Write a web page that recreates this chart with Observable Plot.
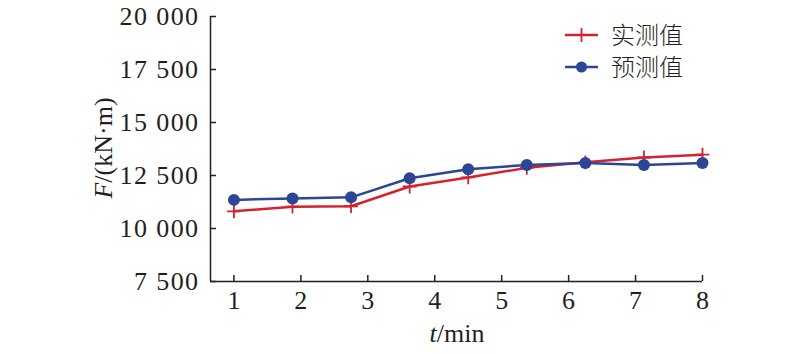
<!DOCTYPE html>
<html><head><meta charset="utf-8">
<script src="https://cdn.jsdelivr.net/npm/d3@7"></script>
<script src="https://cdn.jsdelivr.net/npm/@observablehq/plot@0.6"></script>
<style>
body{margin:0;background:#fff;}
#wrap{position:relative;width:800px;height:354px;}
</style></head><body><div id="wrap"></div>
<script>
const time = [1, 1.875, 2.75, 3.625, 4.5, 5.375, 6.25, 7.125, 8];
const measured = [10810, 11030, 11050, 11980, 12410, 12860, 13120, 13350, 13480];
const predicted = [11350, 11420, 11470, 12370, 12790, 13000, 13090, 13000, 13090];
const xTicks = [1, 2, 3, 4, 5, 6, 7, 8];
const yTicks = [7500, 10000, 12500, 15000, 17500, 20000];
const seriesNames = ["实测值", "预测值"];
const seriesColors = ["#d6222e", "#2c4697"];

const rows = [];
time.forEach((t, i) => {
  rows.push({t, v: measured[i], s: seriesNames[0]});
  rows.push({t, v: predicted[i], s: seriesNames[1]});
});
const mRows = rows.filter(d => d.s === seriesNames[0]);
const pRows = rows.filter(d => d.s === seriesNames[1]);

const fmt = d => d3.format(",")(d).replace(/,/g, " ");
const serif = '"Liberation Serif","Times New Roman",serif';
const ink = "#231f20";

const plot = Plot.plot({
  width: 800, height: 354,
  marginLeft: 210, marginRight: 98, marginTop: 16, marginBottom: 73,
  style: {fontFamily: serif, fontSize: "26px", color: ink, background: "white", overflow: "visible"},
  x: {domain: [0.65, 8]},
  y: {domain: [7500, 20000]},
  color: {domain: seriesNames, range: seriesColors},
  marks: [
    Plot.ruleX([0.65], {stroke: ink, strokeWidth: 1.5}),
    Plot.ruleY([7500], {stroke: ink, strokeWidth: 1.5}),
    Plot.axisY(yTicks, {tickSize: -6, tickFormat: () => "", label: null, stroke: ink, strokeWidth: 1.5}),
    Plot.axisY(yTicks, {tickSize: 0, tickPadding: 11, tickFormat: fmt, label: null, fill: ink, fontSize: 26}),
    Plot.axisX(xTicks, {tickSize: -6, tickFormat: () => "", label: null, stroke: ink, strokeWidth: 1.5}),
    Plot.axisX(xTicks, {tickSize: 0, tickPadding: 9, tickFormat: d => String(d), label: null, fill: ink, fontSize: 26}),
    Plot.line(mRows, {x: "t", y: "v", stroke: "s", strokeWidth: 2.5}),
    Plot.dot(mRows, {x: "t", y: "v", stroke: "s", symbol: "plus", r: 4.5, strokeWidth: 1.8}),
    Plot.line(pRows, {x: "t", y: "v", stroke: "s", strokeWidth: 2.5}),
    Plot.dot(pRows, {x: "t", y: "v", fill: "s", r: 6})
  ]
});
document.getElementById("wrap").appendChild(plot);

const svg = d3.select(plot);
// y tick labels: slightly wider setting, as in the reference
svg.selectAll("text").each(function() {
  const t = this.textContent;
  this.style.fontSize = "26px";
  this.style.fontFamily = serif;
  if (t.length > 1) this.style.letterSpacing = "1.4px";
});

// axis titles
const yl = svg.append("text")
  .attr("transform", "translate(112,148) rotate(-90)")
  .attr("text-anchor", "middle")
  .attr("font-family", serif).attr("font-size", 26).attr("fill", ink);
yl.append("tspan").attr("font-style", "italic").text("F");
yl.append("tspan").text("/(kN·m)");
const xl = svg.append("text")
  .attr("x", 457).attr("y", 342)
  .attr("text-anchor", "middle")
  .attr("font-family", serif).attr("font-size", 26).attr("fill", ink);
xl.append("tspan").attr("font-style", "italic").text("t");
xl.append("tspan").text("/min");

// legend
const lg = svg.append("g");
const cjk = '"Noto Sans CJK SC","Noto Sans",sans-serif';
seriesNames.forEach((name, i) => {
  const y = 35 + i * 32;
  lg.append("line").attr("x1", 565).attr("x2", 598).attr("y1", y).attr("y2", y)
    .attr("stroke", seriesColors[i]).attr("stroke-width", 2.5);
  if (i === 0) {
    lg.append("path").attr("d", d3.symbol(d3.symbolPlus, 64)())
      .attr("transform", `translate(581.5,${y})`)
      .attr("fill", "none").attr("stroke", seriesColors[i]).attr("stroke-width", 1.8);
  } else {
    lg.append("circle").attr("cx", 581.5).attr("cy", y).attr("r", 5.5).attr("fill", seriesColors[i]);
  }
  lg.append("text").attr("x", 611).attr("y", y + 9).attr("text-anchor", "start")
    .attr("font-family", cjk).attr("font-size", 24).attr("font-weight", 300).attr("fill", ink)
    .text(name);
});
</script></body></html>
